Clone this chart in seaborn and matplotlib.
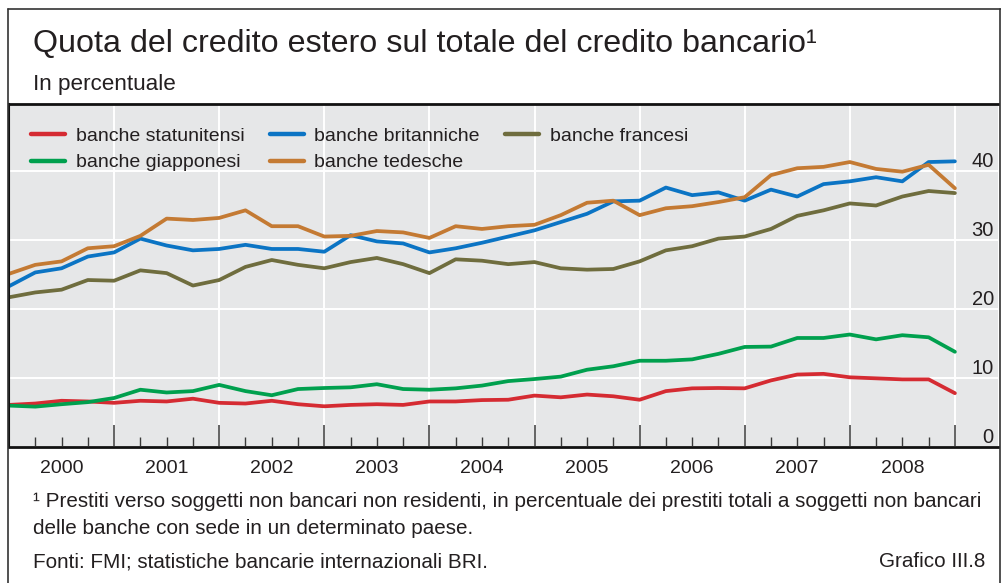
import matplotlib
matplotlib.use("Agg")
import matplotlib.pyplot as plt
import seaborn as sns
import pandas as pd
from matplotlib.lines import Line2D

# ---- data (quarterly, 1999Q4 .. 2008Q4) ----
quarters = pd.period_range("1999Q4", "2008Q4", freq="Q")
us = [6.1, 6.3, 6.7, 6.6, 6.4, 6.7, 6.6, 7.0, 6.4, 6.3, 6.7, 6.2, 5.9, 6.1, 6.2, 6.1,
      6.6, 6.6, 6.8, 6.85, 7.45, 7.2, 7.6, 7.35, 6.85, 8.1, 8.5, 8.55, 8.5, 9.65, 10.5,
      10.6, 10.1, 9.95, 9.8, 9.8, 7.8]
jp = [6.0, 5.85, 6.2, 6.5, 7.1, 8.3, 7.9, 8.1, 9.0, 8.1, 7.5, 8.4, 8.55, 8.65, 9.1, 8.4,
      8.3, 8.5, 8.9, 9.55, 9.85, 10.2, 11.2, 11.7, 12.5, 12.5, 12.7, 13.5, 14.5, 14.55,
      15.8, 15.8, 16.3, 15.6, 16.2, 15.9, 13.8]
uk = [23.3, 25.3, 25.9, 27.6, 28.2, 30.2, 29.2, 28.5, 28.7, 29.3, 28.7, 28.7, 28.3, 30.7,
      29.8, 29.5, 28.2, 28.8, 29.6, 30.5, 31.4, 32.6, 33.8, 35.6, 35.7, 37.6, 36.5, 36.9,
      35.7, 37.3, 36.3, 38.1, 38.5, 39.1, 38.5, 41.3, 41.4]
de = [25.1, 26.4, 26.9, 28.8, 29.1, 30.6, 33.1, 32.9, 33.2, 34.3, 32.0, 32.0, 30.5, 30.6,
      31.3, 31.1, 30.3, 32.0, 31.6, 32.0, 32.2, 33.6, 35.4, 35.7, 33.6, 34.6, 34.9, 35.5,
      36.2, 39.4, 40.4, 40.6, 41.3, 40.3, 39.9, 40.9, 37.5]
fr = [21.7, 22.4, 22.8, 24.2, 24.1, 25.6, 25.2, 23.4, 24.2, 26.1, 27.1, 26.4, 25.9, 26.8,
      27.4, 26.5, 25.2, 27.2, 27.0, 26.5, 26.8, 25.9, 25.7, 25.8, 26.9, 28.5, 29.1, 30.2,
      30.5, 31.6, 33.5, 34.3, 35.3, 35.0, 36.3, 37.1, 36.8]

series_names = ["banche statunitensi", "banche giapponesi", "banche britanniche",
                "banche tedesche", "banche francesi"]
series_values = [us, jp, uk, de, fr]
colors = ["#d52b32", "#00a04e", "#0b74c4", "#c47a33", "#6f6d3e"]
years = list(range(2000, 2009))
y_ticks = [0, 10, 20, 30, 40]

title = "Quota del credito estero sul totale del credito bancario\u00b9"
subtitle = "In percentuale"
note1 = "\u00b9 Prestiti verso soggetti non bancari non residenti, in percentuale dei prestiti totali a soggetti non bancari"
note2 = "delle banche con sede in un determinato paese."
source = "Fonti: FMI; statistiche bancarie internazionali BRI."
chart_id = "Grafico III.8"

# ---- long table ----
xpos = [p.year + p.quarter / 4 for p in quarters]
rows = []
for name, vals in zip(series_names, series_values):
    for x, v in zip(xpos, vals):
        rows.append({"x": x, "value": v, "serie": name})
df = pd.DataFrame(rows)

sns.set_theme(style="white")
plt.rcParams["font.family"] = ["Liberation Sans", "DejaVu Sans"]
txt = "#231f20"

W, H = 1001, 583
fig = plt.figure(figsize=(W / 100, H / 100), dpi=100)
ax_l, ax_r, ax_t, ax_b = 9, 998, 104, 447
ax = fig.add_axes([ax_l / W, 1 - ax_b / H, (ax_r - ax_l) / W, (ax_b - ax_t) / H])
ax.set_facecolor("#e6e7e8")

sns.lineplot(data=df, x="x", y="value", hue="serie", hue_order=series_names,
             palette=colors, linewidth=2.7, ax=ax, legend=True)

ax.set_xlim(2000, 2000 + (ax_r - ax_l) / 105.1)
ax.set_ylim(0, (ax_b - ax_t) / 6.9)

# gridlines
ax.set_yticks(y_ticks)
ax.set_xticks([y for y in range(2000, 2010)])
ax.set_xticks(xpos, minor=True)
ax.grid(True, which="major", color="white", linewidth=1.4)
ax.set_axisbelow(True)

ax.set_xticklabels([])
ax.tick_params(axis="x", which="major", direction="in", length=16, width=1.1,
               color="#3a3a3a", bottom=True, top=False)
ax.tick_params(axis="x", which="minor", direction="in", length=7.5, width=1.0,
               color="#3a3a3a", bottom=True, top=False)
ax.yaxis.set_ticks_position("right")
ax.tick_params(axis="y", length=0, pad=-3, labelsize=14.5, labelcolor=txt,
               labelright=True, labelleft=False)
ax.set_yticklabels([str(t) for t in y_ticks])
for lab in ax.get_yticklabels():
    lab.set_horizontalalignment("right")
    lab.set_verticalalignment("bottom")

for y in years:
    ax.text(y + 0.5, -(473 - ax_b) / (ax_b - ax_t), str(y), transform=ax.get_xaxis_transform(),
            ha="center", va="baseline", fontsize=14, color=txt)

ax.set_xlabel("")
ax.set_ylabel("")
for s in ["top", "bottom"]:
    ax.spines[s].set_color("#111111")
    ax.spines[s].set_linewidth(2.0)
ax.spines["left"].set_color("#111111")
ax.spines["left"].set_linewidth(1.5)
ax.spines["right"].set_visible(False)

handles, labels = ax.get_legend_handles_labels()
for h in handles:
    h.set_linewidth(3.2)
ax.legend(handles, labels, ncol=3, loc="upper left",
          bbox_to_anchor=(22 / (ax_r - ax_l), 1 - 23 / (ax_b - ax_t)),
          frameon=False, fontsize=14, handlelength=1.75, handletextpad=0.55,
          columnspacing=1.3, labelspacing=0.47, borderpad=0, borderaxespad=0,
          labelcolor=txt)

# ---- header / footer texts ----
def fy(px):
    return 1 - px / H

fig.text(33 / W, fy(52), title, fontsize=23.2, color=txt, va="baseline", ha="left")
fig.text(33 / W, fy(90), subtitle, fontsize=16.2, color=txt, va="baseline", ha="left")
fig.text(33 / W, fy(507), note1, fontsize=14.9, color=txt, va="baseline", ha="left")
fig.text(33 / W, fy(534), note2, fontsize=14.9, color=txt, va="baseline", ha="left")
fig.text(33 / W, fy(567), source, fontsize=14.9, color=txt, va="baseline", ha="left")
fig.text(985 / W, fy(567), chart_id, fontsize=14.9, color=txt, va="baseline", ha="right")

# outer frame
for (x0, y0, x1, y1) in [(8, 9, 1001, 9), (8, 9, 8, 583), (999.5, 9, 999.5, 583)]:
    fig.add_artist(Line2D([x0 / W, x1 / W], [fy(y0), fy(y1)], color="#333333",
                          linewidth=1.2, transform=fig.transFigure))

fig.savefig("out.png", dpi=100, facecolor="white")
